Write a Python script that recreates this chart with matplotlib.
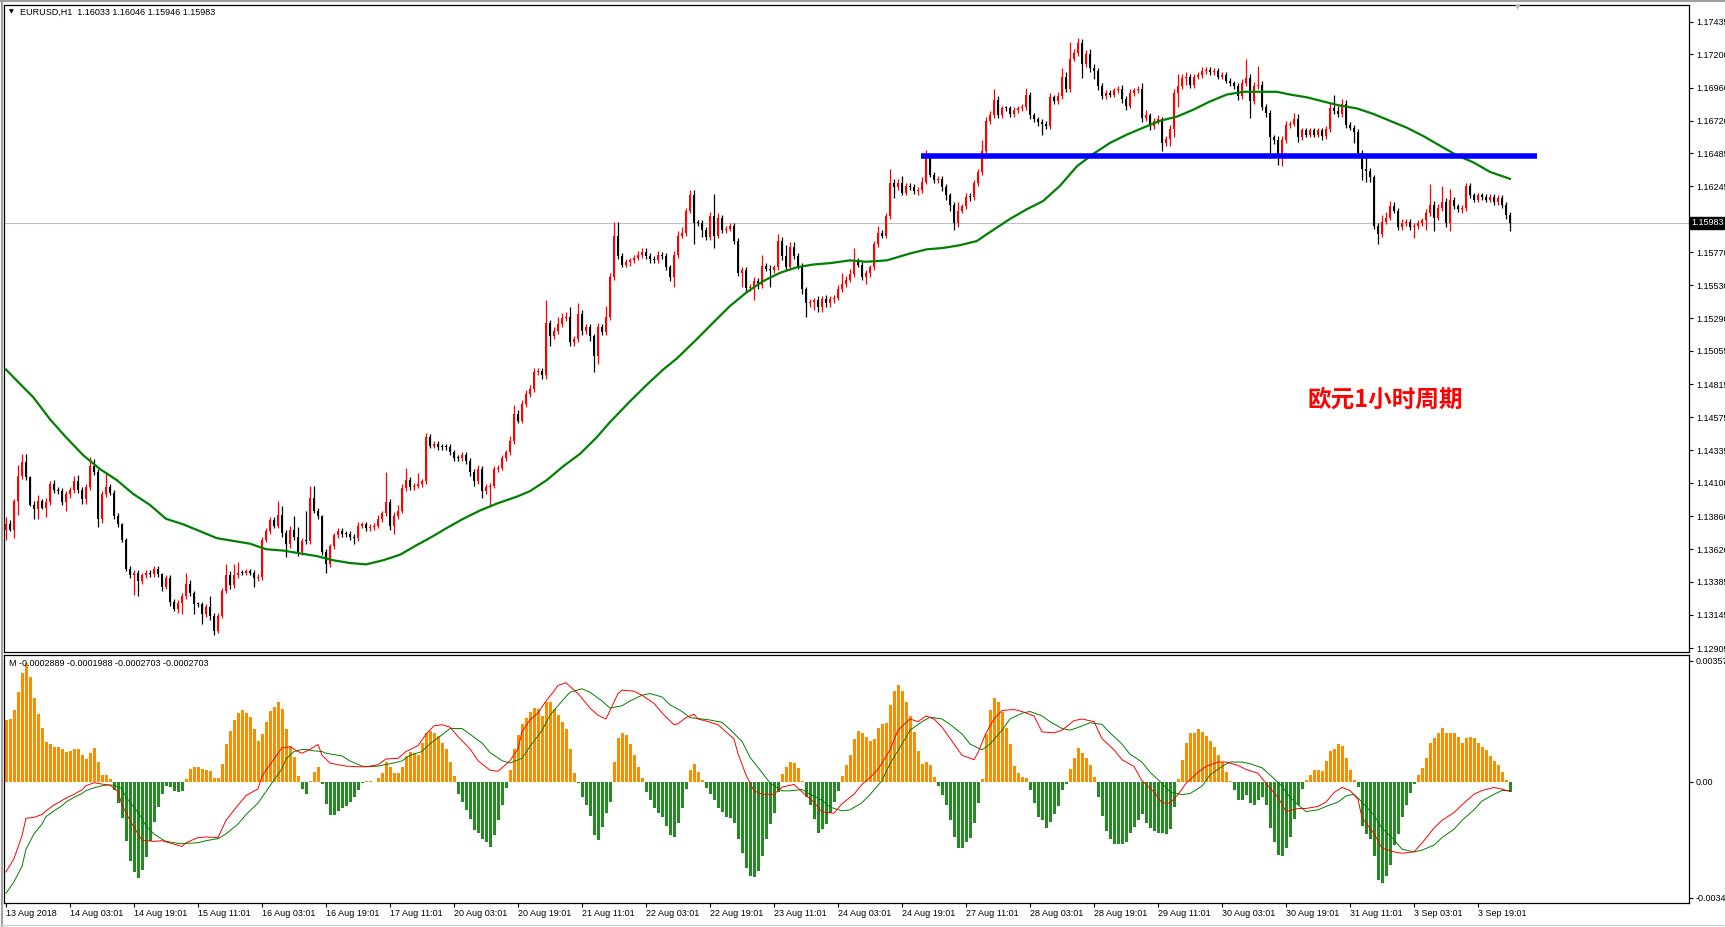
import numpy as np
import matplotlib
matplotlib.use("Agg")
import matplotlib.pyplot as plt
from matplotlib.transforms import blended_transform_factory
from matplotlib.lines import Line2D

W, H = 1725, 927

# Step 1: price data (EURUSD H1, closes in 1e-4 units, open = previous close)
first_open = 11376
closes = [
    11380, 11376, 11397, 11415, 11425, 11414, 11394, 11391, 11397, 11392,
    11396, 11409, 11405, 11404, 11396, 11402, 11405, 11411, 11405, 11398,
    11407, 11422, 11418, 11384, 11402, 11407, 11403, 11386, 11380, 11369,
    11348, 11343, 11345, 11339, 11343, 11345, 11344, 11348, 11344, 11335,
    11341, 11324, 11319, 11323, 11328, 11337, 11330, 11322, 11322, 11315,
    11320, 11314, 11303, 11314, 11332, 11343, 11336, 11343, 11345, 11345,
    11346, 11345, 11341, 11342, 11369, 11375, 11383, 11379, 11387, 11374,
    11366, 11376, 11371, 11360, 11368, 11368, 11399, 11390, 11386, 11360,
    11351, 11364, 11372, 11375, 11373, 11373, 11371, 11370, 11379, 11380,
    11377, 11378, 11379, 11384, 11388, 11396, 11379, 11386, 11390, 11406,
    11412, 11407, 11408, 11409, 11411, 11443, 11437, 11438, 11436, 11436,
    11436, 11432, 11428, 11428, 11430, 11426, 11418, 11411, 11420, 11404,
    11407, 11408, 11420, 11421, 11428, 11432, 11440, 11460, 11455, 11467,
    11474, 11478, 11490, 11491, 11488, 11526, 11516, 11520, 11525, 11529,
    11530, 11512, 11514, 11532, 11520, 11523, 11516, 11502, 11523, 11519,
    11530, 11559, 11589, 11574, 11568, 11570, 11571, 11573, 11575, 11577,
    11574, 11572, 11571, 11575, 11574, 11566, 11559, 11575, 11589, 11591,
    11607, 11618, 11598, 11598, 11593, 11588, 11603, 11589, 11602, 11593,
    11594, 11596, 11585, 11562, 11564, 11551, 11552, 11556, 11553, 11567,
    11565, 11564, 11566, 11585, 11574, 11566, 11581, 11574, 11567, 11550,
    11540, 11541, 11542, 11537, 11543, 11540, 11543, 11544, 11550, 11554,
    11557, 11561, 11570, 11568, 11559, 11562, 11566, 11583, 11591, 11589,
    11603, 11627, 11624, 11627, 11620, 11625, 11624, 11621, 11622, 11628,
    11645, 11633, 11629, 11630, 11624, 11618, 11611, 11598, 11607, 11610,
    11617, 11617, 11627, 11635, 11650, 11672, 11676, 11687, 11676, 11681,
    11681, 11677, 11680, 11681, 11682, 11691, 11676, 11673, 11671, 11670,
    11668, 11689, 11686, 11690, 11704, 11695, 11717, 11721, 11728, 11713,
    11720, 11710, 11708, 11697, 11690, 11692, 11691, 11694, 11695, 11688,
    11683, 11692, 11694, 11695, 11674, 11676, 11668, 11672, 11673, 11656,
    11659, 11666, 11692, 11697, 11703, 11704, 11698, 11704, 11705, 11708,
    11709, 11707, 11708, 11704, 11705, 11701, 11699, 11697, 11690, 11699,
    11703, 11686, 11697, 11698, 11682, 11678, 11660, 11658, 11645, 11658,
    11669, 11670, 11673, 11660, 11665, 11662, 11665, 11662, 11665, 11661,
    11666, 11681, 11679, 11677, 11684, 11669, 11667, 11664, 11649, 11637,
    11636, 11631, 11596, 11590, 11599, 11602, 11610, 11607, 11595, 11598,
    11599, 11595, 11596, 11598, 11600, 11605, 11611, 11602, 11609, 11613,
    11598, 11615, 11610, 11608, 11609, 11625, 11618, 11615, 11618, 11617,
    11615, 11617, 11613, 11616, 11611, 11604, 11598,
]
wick_up = [
    5, 3, 1, 8, 6, 6, 1, 3, 4, 1, 3, 2, 3, 2, 2, 2, 2, 4, 5, 2,
    2, 7, 5, 2, 2, 10, 2, 2, 2, 1, 1, 2, 2, 2, 2, 2, 2, 2, 2, 1,
    2, 2, 2, 2, 2, 8, 3, 2, 2, 2, 2, 8, 2, 2, 2, 8, 3, 8, 8, 2,
    2, 2, 2, 2, 2, 2, 2, 2, 10, 6, 2, 3, 10, 7, 2, 22, 9, 9, 2, 1,
    2, 2, 2, 2, 2, 2, 2, 2, 3, 2, 2, 2, 2, 3, 2, 22, 2, 3, 4, 3,
    9, 2, 2, 8, 2, 3, 2, 2, 2, 2, 2, 2, 2, 2, 2, 2, 2, 2, 3, 2,
    2, 2, 2, 2, 2, 2, 4, 6, 3, 3, 3, 3, 3, 2, 2, 16, 2, 3, 5, 4,
    4, 7, 2, 8, 3, 2, 2, 2, 3, 2, 8, 3, 10, 10, 2, 2, 2, 2, 3, 3,
    3, 2, 2, 3, 2, 2, 2, 3, 3, 4, 2, 4, 4, 2, 2, 2, 3, 16, 3, 2,
    2, 2, 2, 2, 2, 2, 2, 3, 2, 8, 2, 3, 2, 5, 3, 8, 3, 3, 2, 2,
    2, 2, 2, 3, 2, 3, 2, 2, 3, 8, 3, 4, 10, 3, 2, 2, 2, 2, 5, 2,
    2, 10, 3, 3, 5, 2, 2, 2, 2, 3, 6, 3, 2, 2, 2, 2, 2, 2, 6, 2,
    3, 3, 2, 2, 8, 3, 3, 8, 3, 2, 2, 2, 2, 2, 2, 5, 2, 2, 2, 2,
    2, 3, 2, 3, 6, 3, 12, 3, 4, 3, 3, 4, 3, 2, 2, 2, 2, 2, 2, 3,
    2, 3, 2, 2, 4, 4, 2, 2, 3, 2, 2, 3, 3, 9, 3, 3, 2, 2, 2, 3,
    2, 2, 2, 2, 2, 2, 2, 2, 2, 3, 14, 3, 3, 14, 3, 2, 2, 2, 3, 3,
    3, 2, 5, 4, 2, 2, 2, 2, 2, 2, 2, 4, 10, 4, 4, 3, 2, 2, 2, 2,
    12, 2, 2, 2, 5, 4, 4, 3, 2, 3, 2, 2, 2, 2, 2, 3, 15, 3, 3, 12,
    3, 8, 2, 2, 2, 2, 2, 2, 2, 2, 2, 2, 2, 2, 2, 2, 2,
]
wick_dn = [
    7, 1, 6, 10, 2, 2, 1, 7, 7, 1, 7, 2, 2, 2, 2, 6, 3, 2, 2, 3,
    3, 2, 2, 6, 3, 2, 2, 2, 2, 2, 2, 2, 14, 11, 2, 2, 2, 2, 2, 3,
    2, 3, 2, 3, 8, 2, 2, 7, 2, 7, 2, 3, 3, 2, 2, 2, 3, 2, 2, 2,
    2, 2, 6, 2, 2, 2, 2, 2, 2, 3, 10, 3, 2, 3, 2, 2, 2, 2, 2, 2,
    6, 2, 2, 2, 2, 2, 2, 4, 2, 2, 2, 2, 2, 2, 2, 2, 3, 6, 2, 2,
    2, 2, 2, 2, 2, 2, 2, 2, 2, 2, 2, 2, 2, 2, 2, 2, 3, 3, 2, 5,
    2, 14, 2, 2, 2, 2, 2, 2, 2, 2, 2, 2, 2, 2, 3, 3, 7, 2, 2, 2,
    2, 3, 3, 2, 3, 2, 3, 12, 6, 2, 2, 2, 2, 2, 2, 2, 3, 2, 2, 2,
    2, 3, 2, 2, 2, 2, 3, 7, 2, 2, 2, 2, 15, 2, 5, 2, 2, 9, 2, 2,
    2, 2, 2, 2, 10, 3, 2, 10, 3, 2, 2, 12, 2, 2, 3, 2, 2, 2, 2, 3,
    10, 3, 6, 3, 3, 3, 3, 3, 2, 2, 2, 2, 2, 2, 2, 5, 3, 2, 2, 2,
    2, 2, 8, 2, 2, 2, 2, 2, 3, 2, 2, 2, 2, 2, 3, 3, 4, 5, 3, 2,
    2, 3, 2, 2, 2, 2, 2, 2, 2, 2, 2, 2, 2, 2, 2, 2, 3, 2, 3, 8,
    2, 2, 2, 2, 2, 2, 2, 2, 2, 10, 2, 3, 6, 3, 2, 2, 2, 2, 2, 3,
    3, 2, 2, 2, 3, 2, 3, 2, 2, 6, 2, 5, 6, 10, 2, 5, 2, 2, 2, 2,
    2, 2, 2, 2, 2, 2, 2, 2, 3, 2, 2, 12, 2, 2, 2, 3, 15, 3, 5, 6,
    2, 2, 2, 3, 2, 2, 2, 2, 2, 3, 2, 2, 2, 2, 2, 2, 2, 8, 2, 8,
    8, 3, 2, 7, 2, 2, 2, 2, 2, 2, 2, 2, 8, 2, 2, 7, 2, 10, 2, 2,
    3, 6, 2, 2, 3, 2, 2, 2, 2, 2, 2, 2, 2, 2, 2, 3, 6,
]

# moving average (bar, value 1e-4)
ma_line = [
    (0, 11492), (2.7, 11484), (6.8, 11472), (11, 11456), (15, 11443), (19.3, 11430),
    (23.5, 11420), (27.7, 11412), (31.8, 11402), (36, 11394), (40, 11384), (44.3, 11380),
    (48.5, 11375), (52.7, 11370), (56.8, 11368), (61, 11366), (65, 11362), (69.3, 11361),
    (73.5, 11359), (77.7, 11357), (81.8, 11354), (86, 11352), (90, 11351), (94.3, 11354),
    (98.5, 11358), (102.7, 11365), (106.5, 11371), (110, 11377), (114.3, 11384),
    (118.5, 11390), (122.7, 11395), (127.7, 11400), (131, 11404), (135.2, 11412),
    (139.3, 11422), (143.5, 11431), (147.7, 11443), (151, 11454), (156, 11469),
    (160.2, 11481), (164.3, 11492), (167.7, 11500), (172.7, 11514), (176.8, 11526),
    (181, 11538), (185.2, 11548), (189.3, 11556), (193.5, 11562), (197.7, 11566),
    (201.8, 11568), (206, 11569), (211, 11571), (215, 11570), (220.2, 11571), (226, 11576),
    (230.2, 11579), (234.3, 11580), (238.5, 11582), (242.7, 11585), (246.8, 11593),
    (251, 11601), (255.2, 11608), (259.3, 11614), (263.5, 11625), (267.7, 11639),
    (271.8, 11648), (276, 11656), (280.2, 11662), (284.3, 11667), (288.5, 11672),
    (292.7, 11675), (296.8, 11680), (301, 11686), (305.2, 11691), (309.3, 11693),
    (313.5, 11693), (317.7, 11693), (321, 11691), (325.2, 11689), (329.3, 11686),
    (333.5, 11683), (337.7, 11681), (341.8, 11677), (346, 11672), (350.2, 11667),
    (354.3, 11661), (358.5, 11654), (362.7, 11647), (366.8, 11642), (371, 11635),
    (376, 11630),
]

# blue support line
level_price = 1.16462
level_from, level_to = 228.75, 382.75

price_ticks = [1.17435, 1.17200, 1.16960, 1.16720, 1.16485, 1.16245, 1.15770, 1.15530,
               1.15290, 1.15055, 1.14815, 1.14575, 1.14335, 1.14100, 1.13860, 1.13620,
               1.13385, 1.13145, 1.12905]
price_labels = ["%.5f" % p for p in price_ticks]
last_price = 1.15983

# Step 2: MACD panel (values in 1e-5)
hist = [
    182, 185, 211, 264, 321, 349, 309, 247, 200, 157,
    117, 112, 103, 103, 95, 89, 91, 97, 97, 80,
    67, 84, 100, 58, 21, 19, 8, -24, -64, -108,
    -176, -233, -266, -283, -261, -221, -176, -120, -75, -37,
    -12, -15, -26, -30, -26, 8, 38, 42, 44, 38,
    35, 33, 12, 12, 52, 110, 151, 182, 204, 211,
    204, 191, 155, 121, 142, 177, 208, 219, 234, 213,
    155, 106, 72, 16, -21, -35, 3, 30, 42, -7,
    -67, -97, -97, -86, -78, -71, -60, -46, -24, -3,
    1, 1, -1, 12, 27, 58, 42, 27, 27, 42,
    76, 89, 84, 80, 114, 143, 151, 145, 135, 114,
    95, 58, 16, -37, -61, -83, -111, -143, -150, -168,
    -178, -192, -157, -114, -69, -18, 34, 97, 137, 171,
    189, 207, 217, 213, 193, 236, 236, 213, 196, 175,
    154, 95, 27, -4, -44, -69, -100, -157, -171, -135,
    -93, -61, 58, 128, 143, 137, 111, 80, 44, 10,
    -30, -55, -79, -93, -103, -131, -157, -164, -121, -79,
    -23, 34, 51, 30, 6, -18, -37, -55, -79, -89,
    -103, -107, -121, -168, -210, -255, -277, -281, -262, -220,
    -168, -126, -93, -30, 24, 44, 58, 55, 41, 1,
    -44, -69, -111, -150, -140, -126, -93, -61, -27, 16,
    48, 80, 126, 151, 144, 131, 119, 127, 157, 169,
    174, 227, 268, 285, 268, 235, 194, 147, 91, 53,
    58, 48, 15, -13, -38, -68, -113, -162, -195, -195,
    -179, -167, -121, -63, 8, 140, 210, 247, 235, 207,
    157, 111, 45, 25, 15, 12, -25, -63, -104, -113,
    -137, -118, -96, -71, -25, -8, 36, 70, 98, 86,
    70, 48, 15, -46, -101, -146, -170, -184, -184, -184,
    -179, -151, -134, -113, -96, -121, -137, -146, -151, -151,
    -154, -141, -75, 8, 65, 114, 144, 144, 156, 147,
    136, 119, 103, 78, 58, 28, 3, -25, -55, -55,
    -38, -63, -68, -55, -46, -68, -137, -179, -217, -220,
    -195, -162, -110, -70, -22, 5, 20, 35, 35, 32,
    60, 91, 97, 110, 106, 71, 35, 5, -17, -130,
    -153, -170, -218, -289, -299, -279, -245, -187, -153, -103,
    -68, -32, -6, 20, 40, 71, 113, 128, 144, 159,
    144, 144, 144, 133, 113, 128, 133, 128, 113, 102,
    94, 76, 60, 48, 29, 5, -29,
]
macd_line = [
    (0, -266), (2, -227), (4, -159), (5, -108), (7, -105), (9, -97), (10, -86), (12, -69),
    (14, -55), (15, -49), (17, -37), (19, -24), (20, -12), (22, -3), (24, -7), (26, -10),
    (28, -29), (29, -69), (31, -114), (33, -154), (34, -173), (37, -176), (39, -174),
    (42, -184), (44, -191), (45, -180), (48, -165), (50, -163), (53, -165), (55, -114),
    (58, -69), (60, -41), (63, -21), (64, 16), (66, 50), (68, 84), (69, 100), (71, 103),
    (73, 89), (74, 84), (76, 95), (78, 110), (79, 78), (81, 55), (83, 50), (85, 46),
    (88, 44), (90, 44), (93, 50), (95, 67), (98, 69), (100, 89), (103, 106), (105, 140),
    (107, 165), (109, 168), (111, 161), (113, 133), (116, 97), (118, 62), (121, 34),
    (123, 31), (124, 41), (126, 62), (128, 97), (129, 147), (131, 182), (133, 203),
    (135, 238), (137, 267), (138, 284), (140, 292), (141, 281), (143, 260), (144, 246),
    (146, 217), (148, 196), (150, 185), (151, 210), (153, 260), (154, 270), (157, 267),
    (159, 255), (162, 231), (164, 203), (167, 168), (168, 171), (170, 189), (172, 199),
    (173, 185), (175, 179), (178, 168), (180, 147), (182, 126), (183, 83), (185, 20),
    (187, -27), (189, -37), (192, -37), (194, -16), (197, -8), (199, -30), (202, -61),
    (204, -89), (207, -93), (209, -65), (212, -37), (214, -8), (216, 12), (218, 36),
    (221, 94), (223, 152), (226, 185), (228, 177), (230, 194), (232, 185), (234, 161),
    (237, 111), (239, 78), (242, 65), (243, 86), (245, 144), (247, 185), (249, 210),
    (252, 213), (254, 207), (257, 194), (259, 147), (262, 144), (264, 152), (267, 180),
    (269, 185), (272, 177), (274, 127), (277, 94), (279, 65), (282, 45), (284, 3),
    (287, -30), (289, -63), (291, -63), (293, -38), (295, -5), (298, 28), (300, 45),
    (303, 58), (305, 58), (308, 48), (310, 36), (313, 25), (315, -5), (318, -46),
    (320, -88), (323, -79), (325, -79), (328, -73), (330, -60), (332, -32), (334, -17),
    (336, -26), (338, -52), (339, -106), (342, -153), (344, -196), (347, -207),
    (349, -211), (352, -207), (354, -181), (357, -137), (359, -114), (362, -91),
    (364, -68), (367, -37), (369, -26), (372, -17), (374, -22), (376, -29),
]
signal_line = [
    (0, -329), (2, -295), (4, -250), (5, -199), (7, -154), (9, -125), (10, -103), (12, -86),
    (14, -71), (15, -60), (17, -46), (19, -35), (20, -26), (22, -18), (24, -12), (25, -10),
    (27, -10), (29, -21), (30, -46), (32, -75), (34, -108), (35, -131), (37, -154),
    (39, -170), (40, -176), (43, -182), (45, -182), (48, -180), (50, -174), (53, -168),
    (55, -154), (58, -125), (60, -97), (63, -63), (65, -29), (67, 5), (69, 38), (70, 67),
    (72, 89), (74, 95), (75, 95), (77, 91), (79, 89), (80, 84), (82, 80), (84, 76),
    (86, 61), (89, 46), (91, 44), (93, 46), (96, 53), (99, 61), (101, 78), (104, 89),
    (106, 112), (109, 138), (111, 157), (114, 157), (116, 140), (119, 114), (121, 86),
    (124, 62), (126, 55), (129, 69), (131, 104), (134, 151), (136, 196), (139, 238),
    (141, 264), (144, 274), (146, 264), (149, 238), (151, 217), (154, 224), (156, 238),
    (159, 255), (161, 260), (164, 250), (166, 227), (169, 207), (171, 189), (174, 185),
    (176, 182), (179, 175), (181, 154), (184, 119), (186, 72), (189, 27), (191, -4),
    (194, -27), (196, -27), (199, -23), (201, -37), (204, -55), (206, -75), (209, -86),
    (211, -83), (214, -62), (216, -38), (219, 3), (221, 53), (224, 111), (226, 152),
    (229, 177), (231, 190), (234, 185), (236, 169), (239, 141), (241, 111), (244, 94),
    (246, 111), (249, 152), (251, 185), (254, 202), (256, 207), (259, 194), (261, 177),
    (264, 157), (266, 152), (269, 164), (271, 174), (274, 169), (276, 144), (279, 111),
    (281, 81), (284, 58), (286, 28), (289, -5), (291, -30), (294, -38), (296, -35),
    (299, -13), (301, 20), (304, 45), (306, 58), (309, 58), (311, 53), (314, 41),
    (316, 20), (319, -13), (321, -46), (323, -68), (325, -88), (328, -83), (330, -73),
    (333, -60), (335, -42), (337, -37), (339, -60), (342, -99), (344, -137), (347, -171),
    (349, -199), (352, -207), (354, -202), (357, -187), (359, -165), (362, -140),
    (364, -114), (367, -83), (369, -57), (372, -37), (374, -26), (376, -26),
]
macd_ticks = [0.00357, 0.0, -0.00343]
macd_labels = ["0.00357", "0.00", "-0.00343"]

time_ticks = list(range(0, 369, 16))
time_labels = ["13 Aug 2018", "14 Aug 03:01", "14 Aug 19:01", "15 Aug 11:01", "16 Aug 03:01",
               "16 Aug 19:01", "17 Aug 11:01", "20 Aug 03:01", "20 Aug 19:01", "21 Aug 11:01",
               "22 Aug 03:01", "22 Aug 19:01", "23 Aug 11:01", "24 Aug 03:01", "24 Aug 19:01",
               "27 Aug 11:01", "28 Aug 03:01", "28 Aug 19:01", "29 Aug 11:01", "30 Aug 03:01",
               "30 Aug 19:01", "31 Aug 11:01", "3 Sep 03:01", "3 Sep 19:01"]

# Step 3: build candles
plt.rcParams["font.family"] = ["Liberation Sans", "DejaVu Sans"]
c = np.array(closes) / 1e4
o = np.r_[first_open / 1e4, c[:-1]]
hi = np.maximum(o, c) + np.array(wick_up) / 1e4
lo = np.minimum(o, c) - np.array(wick_dn) / 1e4
x = np.arange(len(c))
col = np.where(c > o, "#ff0000", "#000000")
body_lo = np.minimum(o, c)
body_h = np.maximum(np.abs(c - o), 0.00008)

fig = plt.figure(figsize=(W / 100, H / 100), dpi=100)
fig.patch.set_facecolor("white")
ax = fig.add_axes([4 / W, 1 - 651.5 / H, 1685 / W, 647 / H])
ax2 = fig.add_axes([4 / W, 1 - 903 / H, 1685 / W, 248 / H])
xlim = (-0.5, 420.75)

# Step 4: main chart
ax.axhline(last_price, color="#c0c0c0", lw=0.8, zorder=1)
ax.vlines(x, lo, hi, colors=col, lw=0.9, zorder=2)
ax.bar(x, body_h, bottom=body_lo, width=0.72, color=col, lw=0, zorder=3)
ma_x, ma_y = zip(*ma_line)
ax.plot(ma_x, np.array(ma_y) / 1e4, color="#008000", lw=1.6, zorder=4)
ax.hlines(level_price, level_from, level_to, color="#0000ff", lw=4, zorder=5)
ax.set_xlim(*xlim)
ax.set_ylim(1.128797, 1.175616)
ax.set_xticks([])
ax.yaxis.tick_right()
ax.set_yticks(price_ticks)
ax.set_yticklabels(price_labels)
ax.tick_params(axis="y", length=3, width=0.8, labelsize=6.5, pad=2)
tr = blended_transform_factory(ax.transAxes, ax.transData)
ax.text(1.0015, last_price, "1.15983", transform=tr, fontsize=6.5, color="white",
        va="center", ha="left", clip_on=False, zorder=10,
        bbox=dict(boxstyle="square,pad=0.15", fc="black", ec="black"))
ax.text(0.7733, 0.3887, "欧元1小时周期", transform=ax.transAxes, color="#ff0000",
        fontsize=17, fontweight="bold", va="center", ha="left",
        family=["Noto Sans CJK SC", "DejaVu Sans"])

# Step 5: MACD panel
h = np.array(hist) / 1e5
ax2.bar(x, h, width=0.75, color=np.where(h >= 0, "#ff8c00", "#228b22"), lw=0, zorder=2)
sx, sy = zip(*signal_line)
ax2.plot(sx, np.array(sy) / 1e5, color="#008000", lw=0.7, zorder=3)
mx, my = zip(*macd_line)
ax2.plot(mx, np.array(my) / 1e5, color="#ff0000", lw=0.7, zorder=4)
ax2.set_xlim(*xlim)
ax2.set_ylim(-0.003578, 0.003737)
ax2.yaxis.tick_right()
ax2.set_yticks(macd_ticks)
ax2.set_yticklabels(macd_labels)
ax2.tick_params(axis="y", length=3, width=0.8, labelsize=6.5, pad=2)
ax2.set_xticks(time_ticks)
ax2.set_xticklabels(time_labels, ha="left")
ax2.tick_params(axis="x", length=3, width=0.8, labelsize=6.5, pad=1.5)

for a in (ax, ax2):
    for s in a.spines.values():
        s.set_linewidth(0.9)
        s.set_color("black")

# headers and window frame
fig.text(11 / W, 1 - 12 / H, "▼", fontsize=4.5, family="DejaVu Sans", va="center", ha="center")
fig.text(20 / W, 1 - 12 / H, "EURUSD,H1  1.16033 1.16046 1.15946 1.15983", fontsize=6.5, va="center")
fig.text(9 / W, 1 - 664 / H, "M -0.0002889 -0.0001988 -0.0002703 -0.0002703", fontsize=6.5, va="center")
fig.text(1518 / W, 1 - 7 / H, "▼", fontsize=5, color="#b8b8b8", family="DejaVu Sans",
         va="center", ha="center")
fig.add_artist(Line2D([0, 1], [1 - 1 / H, 1 - 1 / H], color="#a0a0a0", lw=1.5))
fig.add_artist(Line2D([1.5 / W, 1.5 / W], [0, 1], color="#a0a0a0", lw=1.5))
fig.add_artist(Line2D([0, 1], [1 - 925 / H, 1 - 925 / H], color="#d0d0d0", lw=1.0))

fig.savefig("out.png", dpi=100, facecolor="white")
